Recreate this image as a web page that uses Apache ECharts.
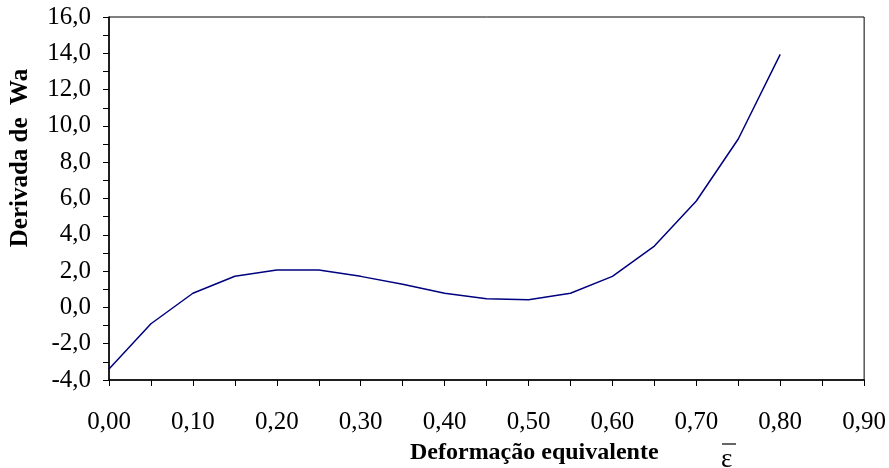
<!DOCTYPE html>
<html>
<head>
<meta charset="utf-8">
<script src="https://cdn.jsdelivr.net/npm/echarts@6/dist/echarts.min.js"></script>
<style>
  html, body { margin: 0; padding: 0; background: #fff; }
  #chart { width: 889px; height: 468px; }
</style>
</head>
<body>
<div id="chart"></div>
<script>
// Equivalent strain (x) and derivative of Wa (y)
const strain = [0.00, 0.05, 0.10, 0.15, 0.20, 0.25, 0.30, 0.35, 0.40, 0.45, 0.50, 0.55, 0.60, 0.65, 0.70, 0.75, 0.80];
const derivWa = [-3.4, -0.9, 0.78, 1.72, 2.06, 2.06, 1.71, 1.27, 0.78, 0.48, 0.42, 0.78, 1.71, 3.38, 5.86, 9.28, 13.94];

const xTitle = 'Deformação equivalente';
const yTitle = 'Derivada de  Wa';
const strainSymbol = 'ε';

const serif = '"Liberation Serif", "Times New Roman", serif';
const chart = echarts.init(document.getElementById('chart'));

chart.setOption({
  animation: false,
  backgroundColor: '#ffffff',
  grid: {
    left: 109, top: 17, right: 24, bottom: 88,
    show: true, borderColor: '#000', borderWidth: 1, backgroundColor: 'transparent'
  },
  xAxis: {
    type: 'value', min: 0, max: 0.9, interval: 0.1,
    axisLine: { show: true, onZero: false, lineStyle: { color: '#000', width: 1.5 } },
    axisTick: { show: true, inside: false, length: 6, lineStyle: { color: '#000', width: 1 } },
    minorTick: { show: true, splitNumber: 2, length: 6, lineStyle: { color: '#000', width: 1 } },
    splitLine: { show: false },
    axisLabel: {
      margin: 30, color: '#000', fontFamily: serif, fontSize: 25,
      formatter: v => v.toFixed(2).replace('.', ',')
    }
  },
  yAxis: {
    type: 'value', min: -4, max: 16, interval: 2,
    axisLine: { show: true, onZero: false, lineStyle: { color: '#000', width: 1.5 } },
    axisTick: { show: true, inside: false, length: 6, lineStyle: { color: '#000', width: 1 } },
    minorTick: { show: true, splitNumber: 2, length: 6, lineStyle: { color: '#000', width: 1 } },
    splitLine: { show: false },
    axisLabel: {
      margin: 18, color: '#000', fontFamily: serif, fontSize: 25,
      padding: [8, 0, 0, 0],
      formatter: v => v.toFixed(1).replace('.', ',')
    }
  },
  series: [{
    type: 'line',
    data: strain.map((x, i) => [x, derivWa[i]]),
    showSymbol: false,
    lineStyle: { color: '#00007f', width: 1.5 }
  }],
  graphic: [
    {
      type: 'text', x: 410, y: 453,
      style: { text: xTitle, font: 'bold 24px ' + serif, fill: '#000', verticalAlign: 'middle' }
    },
    {
      type: 'text', x: 721, y: 460,
      style: { text: strainSymbol, font: '27px ' + serif, fill: '#000', verticalAlign: 'middle' }
    },
    {
      type: 'line', shape: { x1: 722, y1: 444, x2: 736, y2: 444 },
      style: { stroke: '#000', lineWidth: 1.2 }
    },
    {
      type: 'text', x: 21, y: 158, rotation: Math.PI / 2,
      style: { text: yTitle, font: 'bold 25px ' + serif, fill: '#000', align: 'center', verticalAlign: 'middle' }
    }
  ]
});
</script>
</body>
</html>
